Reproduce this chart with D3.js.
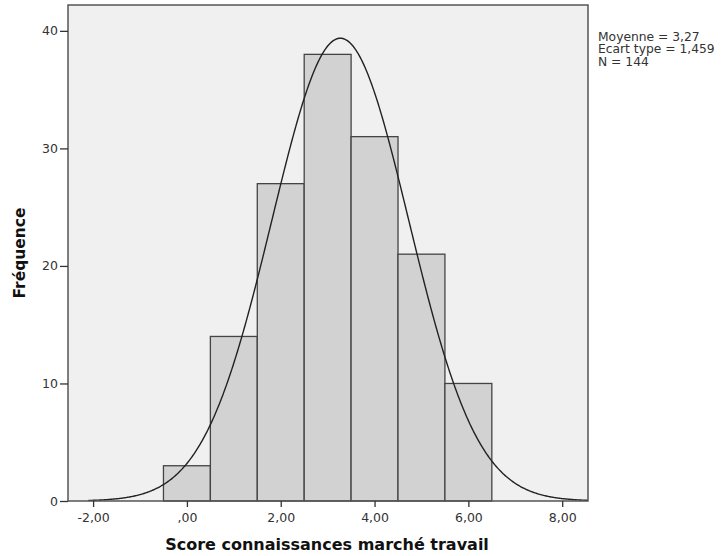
<!DOCTYPE html>
<html><head><meta charset="utf-8">
<script src="https://cdn.jsdelivr.net/npm/d3@7"></script>
<style>body{margin:0;background:#fff;} text{font-family:"DejaVu Sans",Verdana,sans-serif;}</style>
</head><body>
<svg id="c" width="723" height="556"></svg>
<script>
const binCenters = [0, 1, 2, 3, 4, 5, 6];
const counts = [3, 14, 27, 38, 31, 21, 10];
const xTicks = [-2, 0, 2, 4, 6, 8];
const xTickLabels = ["-2,00", ",00", "2,00", "4,00", "6,00", "8,00"];
const yTicks = [0, 10, 20, 30, 40];
const statsLines = ["Moyenne = 3,27", "Ecart type = 1,459", "N = 144"];
const mean = 3.27, sd = 1.459, n = 144, binWidth = 1;

const svg = d3.select("#c");
const L = 68, R = 588, T = 5, B = 501;
const x = d3.scaleLinear().domain([-2.535, 8.55]).range([L, R]);
const y = d3.scaleLinear().domain([0, 42.2]).range([B, T]);

svg.append("rect").attr("x", L).attr("y", T).attr("width", R - L).attr("height", B - T)
  .attr("fill", "#f0f0f0");

svg.selectAll("rect.bar").data(binCenters).enter().append("rect").attr("class", "bar")
  .attr("x", d => x(d - binWidth / 2)).attr("width", d => x(d + binWidth / 2) - x(d - binWidth / 2))
  .attr("y", (d, i) => y(counts[i])).attr("height", (d, i) => y(0) - y(counts[i]))
  .attr("fill", "#d2d2d2").attr("stroke", "#444").attr("stroke-width", 1.3);

const pts = d3.range(-2.1, 8.56, 0.02).map(v => [v, n * binWidth * Math.exp(-0.5 * ((v - mean) / sd) ** 2) / (sd * Math.sqrt(2 * Math.PI))]);
svg.append("path").datum(pts).attr("fill", "none").attr("stroke", "#222").attr("stroke-width", 1.4)
  .attr("d", d3.line().x(d => x(d[0])).y(d => y(d[1])));

svg.append("rect").attr("x", L).attr("y", T).attr("width", R - L).attr("height", B - T)
  .attr("fill", "none").attr("stroke", "#555").attr("stroke-width", 1.5);

const xAxis = svg.append("g").attr("transform", `translate(0,${B})`)
  .call(d3.axisBottom(x).tickValues(xTicks).tickSize(6).tickSizeOuter(0).tickFormat((d, i) => xTickLabels[i]));
xAxis.select(".domain").remove();
xAxis.selectAll("line").attr("stroke", "#333").attr("stroke-width", 1.3);
xAxis.selectAll("text").attr("font-size", 12.5).attr("fill", "#333").attr("y", 10).attr("dy", "0.9em");

const yAxis = svg.append("g").attr("transform", `translate(${L},0)`)
  .call(d3.axisLeft(y).tickValues(yTicks).tickSize(8).tickSizeOuter(0));
yAxis.select(".domain").remove();
yAxis.selectAll("line").attr("stroke", "#333").attr("stroke-width", 1.3);
yAxis.selectAll("text").attr("font-size", 12.5).attr("fill", "#333").attr("x", -10);

svg.append("text").attr("x", 327).attr("y", 550).attr("text-anchor", "middle")
  .attr("font-size", 16).attr("font-weight", "bold").attr("fill", "#111")
  .text("Score connaissances marché travail");
svg.append("text").attr("transform", `translate(25,${(T + B) / 2}) rotate(-90)`).attr("text-anchor", "middle")
  .attr("font-size", 15.5).attr("font-weight", "bold").attr("fill", "#111").text("Fréquence");

svg.append("g").selectAll("text").data(statsLines).enter().append("text")
  .attr("x", 598).attr("y", (d, i) => 40.5 + i * 12.7).attr("font-size", 12.3).attr("fill", "#333").text(d => d);
</script>
</body></html>
